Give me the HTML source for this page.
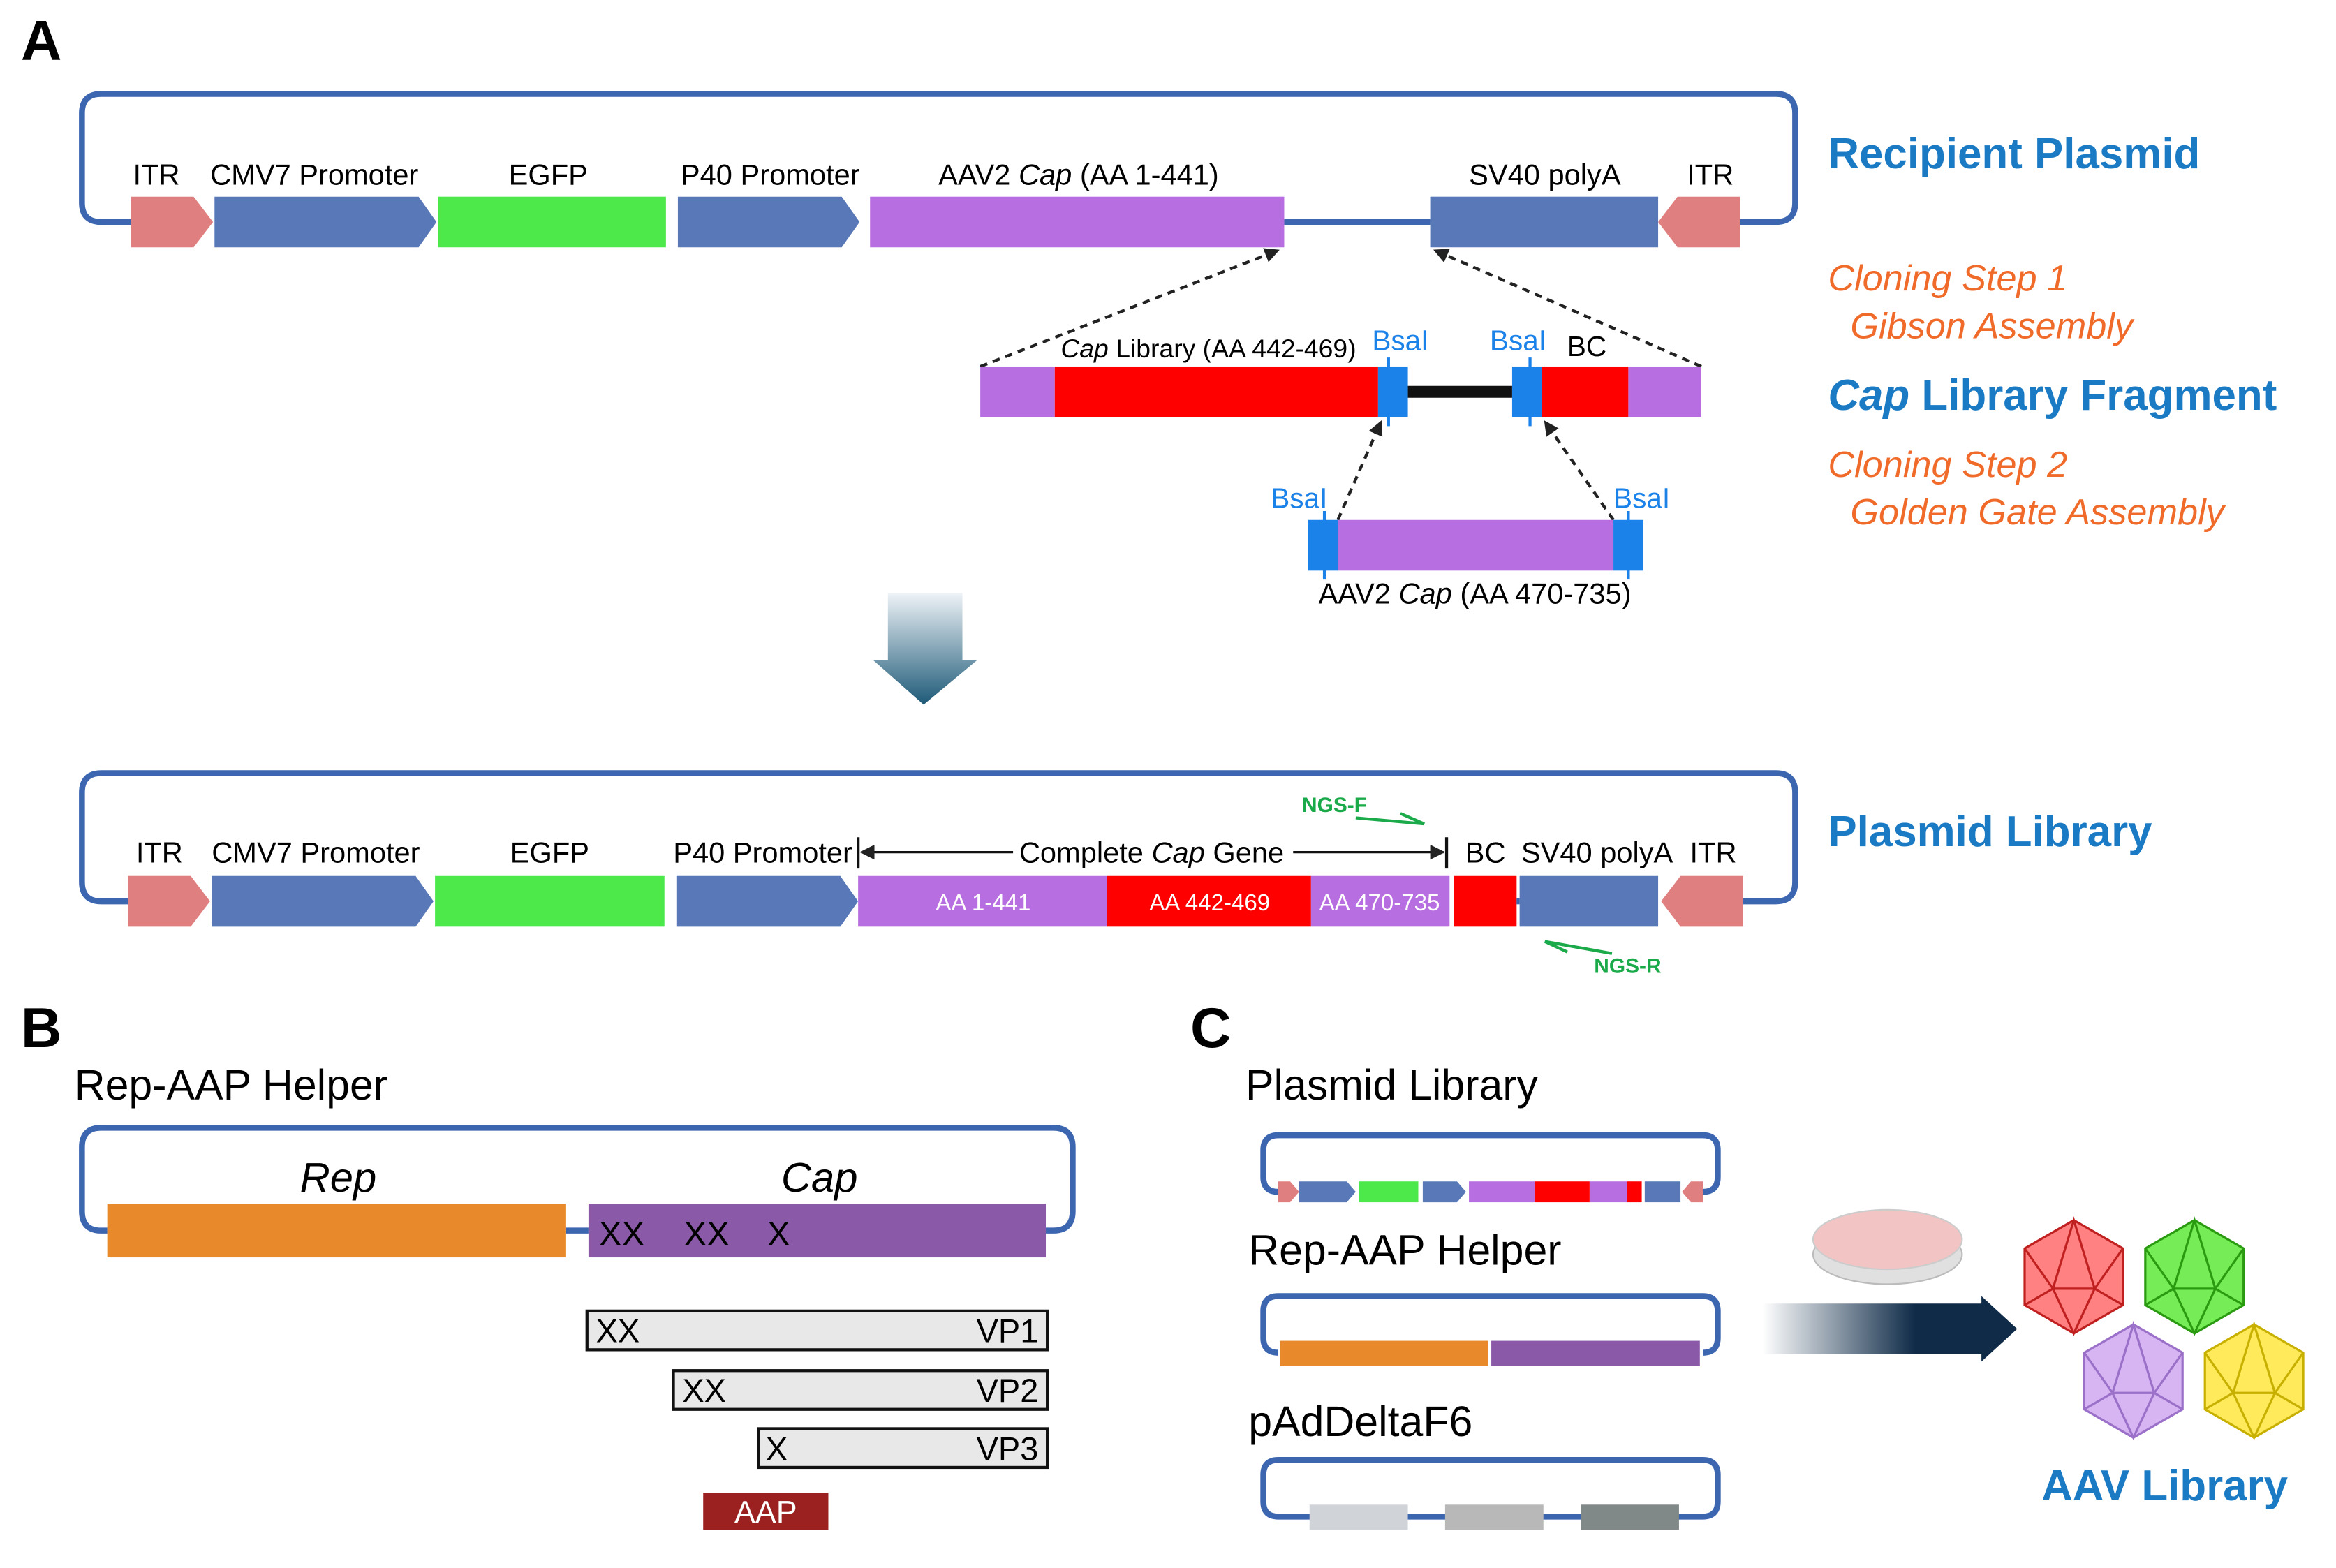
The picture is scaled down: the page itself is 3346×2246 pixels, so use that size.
<!DOCTYPE html>
<html><head><meta charset="utf-8"><style>html,body{margin:0;padding:0;background:#fff}svg{display:block}text{font-family:"Liberation Sans",sans-serif}</style></head><body>
<svg width="3346" height="2246" viewBox="0 0 1568 1052.5" xmlns="http://www.w3.org/2000/svg">
<defs>
<linearGradient id="dg" x1="0" y1="0" x2="0" y2="1"><stop offset="0" stop-color="#eef3f7"/><stop offset="1" stop-color="#1e5a78"/></linearGradient>
<linearGradient id="rg" x1="0" y1="0" x2="1" y2="0"><stop offset="0" stop-color="#ffffff"/><stop offset="0.6" stop-color="#0f2b48"/><stop offset="1" stop-color="#0f2b48"/></linearGradient>
<marker id="ah" markerWidth="10" markerHeight="10" refX="9" refY="5" orient="auto" markerUnits="userSpaceOnUse"><path d="M0,0 L10,5 L0,10 z" fill="#222"/></marker>
</defs>
<text x="14" y="40" font-size="38" font-weight="bold">A</text>
<text x="14" y="703" font-size="38" font-weight="bold">B</text>
<text x="799" y="703" font-size="38" font-weight="bold">C</text>

<path d="M88,149 L68,149 Q55,149 55,136 L55,76 Q55,63 68,63 L1192,63 Q1205,63 1205,76 L1205,136 Q1205,149 1192,149 L1168,149" fill="none" stroke="#3d66b0" stroke-width="4"/>
<line x1="862" y1="149" x2="960" y2="149" stroke="#3d66b0" stroke-width="4"/>
<polygon points="88,132 130,132 143,149 130,166 88,166" fill="#e07f7f"/>
<polygon points="144,132 281,132 293,149 281,166 144,166" fill="#5878b8"/>
<rect x="294" y="132" width="153" height="34" fill="#4de84a"/>
<polygon points="455,132 565,132 577,149 565,166 455,166" fill="#5878b8"/>
<rect x="584" y="132" width="278" height="34" fill="#b76ee0"/>
<rect x="960" y="132" width="153" height="34" fill="#5878b8"/>
<polygon points="1168,132 1126,132 1113,149 1126,166 1168,166" fill="#e07f7f"/>
<g font-size="19.5" text-anchor="middle">
<text x="105" y="124">ITR</text><text x="211" y="124">CMV7 Promoter</text><text x="368" y="124">EGFP</text><text x="517" y="124">P40 Promoter</text>
<text x="724" y="124">AAV2 <tspan font-style="italic">Cap</tspan> (AA 1-441)</text><text x="1037" y="124">SV40 polyA</text><text x="1148" y="124">ITR</text>
</g>
<g font-size="29" font-weight="bold" fill="#1a7ac4">
<text x="1227" y="113">Recipient Plasmid</text>
<text x="1227" y="275"><tspan font-style="italic">Cap</tspan> Library Fragment</text>
<text x="1227" y="568">Plasmid Library</text>
</g>
<g font-size="24.5" font-style="italic" fill="#f06a2a">
<text x="1227" y="195">Cloning Step 1</text><text x="1242" y="227">Gibson Assembly</text>
<text x="1227" y="320">Cloning Step 2</text><text x="1242" y="352">Golden Gate Assembly</text>
</g>

<line x1="658" y1="246" x2="858" y2="168" stroke="#222" stroke-width="2" stroke-dasharray="5,4" marker-end="url(#ah)"/>
<line x1="1142" y1="246" x2="963" y2="168" stroke="#222" stroke-width="2" stroke-dasharray="5,4" marker-end="url(#ah)"/>
<rect x="658" y="246" width="50" height="34" fill="#b76ee0"/>
<rect x="708" y="246" width="217" height="34" fill="#f00"/>
<rect x="925" y="246" width="20" height="34" fill="#1a82e8"/>
<line x1="945" y1="263" x2="1015" y2="263" stroke="#111" stroke-width="8"/>
<rect x="1015" y="246" width="20" height="34" fill="#1a82e8"/>
<rect x="1035" y="246" width="58" height="34" fill="#f00"/>
<rect x="1093" y="246" width="49" height="34" fill="#b76ee0"/>
<line x1="932" y1="240" x2="932" y2="286" stroke="#1a82e8" stroke-width="2"/>
<line x1="1027" y1="240" x2="1027" y2="286" stroke="#1a82e8" stroke-width="2"/>
<text x="712" y="240" font-size="17.5"><tspan font-style="italic">Cap</tspan> Library (AA 442-469)</text>
<text x="921" y="235" font-size="19" fill="#1a82e8">BsaI</text>
<text x="1000" y="235" font-size="19" fill="#1a82e8">BsaI</text>
<text x="1052" y="239" font-size="19">BC</text>

<line x1="898" y1="349" x2="927" y2="283" stroke="#222" stroke-width="2" stroke-dasharray="5,4" marker-end="url(#ah)"/>
<line x1="1083" y1="349" x2="1037" y2="283" stroke="#222" stroke-width="2" stroke-dasharray="5,4" marker-end="url(#ah)"/>
<rect x="878" y="349" width="20" height="34" fill="#1a82e8"/>
<rect x="898" y="349" width="185" height="34" fill="#b76ee0"/>
<rect x="1083" y="349" width="20" height="34" fill="#1a82e8"/>
<line x1="889" y1="343" x2="889" y2="389" stroke="#1a82e8" stroke-width="2"/>
<line x1="1093" y1="343" x2="1093" y2="389" stroke="#1a82e8" stroke-width="2"/>
<text x="853" y="341" font-size="19" fill="#1a82e8">BsaI</text>
<text x="1083" y="341" font-size="19" fill="#1a82e8">BsaI</text>
<text x="990" y="405" font-size="19.5" text-anchor="middle">AAV2 <tspan font-style="italic">Cap</tspan> (AA 470-735)</text>

<polygon points="596,398 646,398 646,443 656,443 620,473 586,443 596,443" fill="url(#dg)"/>

<path d="M86,605 L68,605 Q55,605 55,592 L55,532 Q55,519 68,519 L1192,519 Q1205,519 1205,532 L1205,592 Q1205,605 1192,605 L1170,605" fill="none" stroke="#3d66b0" stroke-width="4"/>
<polygon points="86,588 128,588 141,605 128,622 86,622" fill="#e07f7f"/>
<polygon points="142,588 279,588 291,605 279,622 142,622" fill="#5878b8"/>
<rect x="292" y="588" width="154" height="34" fill="#4de84a"/>
<polygon points="454,588 564,588 576,605 564,622 454,622" fill="#5878b8"/>
<rect x="576" y="588" width="167" height="34" fill="#b76ee0"/>
<rect x="743" y="588" width="137" height="34" fill="#f00"/>
<rect x="880" y="588" width="93" height="34" fill="#b76ee0"/>
<rect x="976" y="588" width="42" height="34" fill="#f00"/>
<line x1="1018" y1="605" x2="1020" y2="605" stroke="#3d66b0" stroke-width="4"/>
<rect x="1020" y="588" width="93" height="34" fill="#5878b8"/>
<polygon points="1170,588 1128,588 1115,605 1128,622 1170,622" fill="#e07f7f"/>
<g font-size="15.5" fill="#fff" text-anchor="middle"><text x="660" y="611">AA 1-441</text><text x="812" y="611">AA 442-469</text><text x="926" y="611">AA 470-735</text></g>
<g font-size="19.5" text-anchor="middle">
<text x="107" y="579">ITR</text><text x="212" y="579">CMV7 Promoter</text><text x="369" y="579">EGFP</text><text x="512" y="579">P40 Promoter</text>
<text x="773" y="579">Complete <tspan font-style="italic">Cap</tspan> Gene</text>
<text x="997" y="579">BC</text><text x="1072" y="579">SV40 polyA</text><text x="1150" y="579">ITR</text>
</g>
<line x1="576" y1="562" x2="576" y2="583" stroke="#111" stroke-width="2"/>
<line x1="971" y1="562" x2="971" y2="583" stroke="#111" stroke-width="2"/>
<line x1="578" y1="572" x2="680" y2="572" stroke="#111" stroke-width="1.5" marker-end="url(#ah)" transform="rotate(180 629 572)"/>
<line x1="868" y1="572" x2="969" y2="572" stroke="#111" stroke-width="1.5" marker-end="url(#ah)"/>
<text x="874" y="545" font-size="14" font-weight="bold" fill="#1aaa4a">NGS-F</text>
<path d="M910,549 L956,553 L940,546" fill="none" stroke="#1aaa4a" stroke-width="2"/>
<text x="1070" y="653" font-size="14" font-weight="bold" fill="#1aaa4a">NGS-R</text>
<path d="M1082,640 L1037,632 L1052,639" fill="none" stroke="#1aaa4a" stroke-width="2"/>

<text x="50" y="738" font-size="28.5">Rep-AAP Helper</text>
<path d="M72,826 L68,826 Q55,826 55,813 L55,770 Q55,757 68,757 L707,757 Q720,757 720,770 L720,813 Q720,826 707,826 L702,826" fill="none" stroke="#3d66b0" stroke-width="4"/>
<line x1="380" y1="826" x2="395" y2="826" stroke="#3d66b0" stroke-width="4"/>
<rect x="72" y="808" width="308" height="36" fill="#e88a2c"/>
<rect x="395" y="808" width="307" height="36" fill="#8a5aa8"/>
<text x="227" y="800" font-size="28" font-style="italic" text-anchor="middle">Rep</text>
<text x="550" y="800" font-size="28" font-style="italic" text-anchor="middle">Cap</text>
<g font-size="23"><text x="402" y="836">XX</text><text x="459" y="836">XX</text><text x="515" y="836">X</text></g>
<g fill="#e8e8e8" stroke="#111" stroke-width="2">
<rect x="394" y="880" width="309" height="26"/><rect x="452" y="920" width="251" height="26"/><rect x="509" y="959" width="194" height="26"/></g>
<g font-size="22"><text x="400" y="901">XX</text><text x="458" y="941">XX</text><text x="514" y="980">X</text>
<text x="697" y="901" text-anchor="end">VP1</text><text x="697" y="941" text-anchor="end">VP2</text><text x="697" y="980" text-anchor="end">VP3</text></g>
<rect x="472" y="1002" width="84" height="25" fill="#9b2020"/>
<text x="514" y="1022" font-size="21" fill="#fff" text-anchor="middle">AAP</text>

<text x="836" y="738" font-size="28.5">Plasmid Library</text>
<path d="M858,800 Q848,800 848,790 L848,772 Q848,762 858,762 L1143,762 Q1153,762 1153,772 L1153,790 Q1153,800 1143,800" fill="none" stroke="#3d66b0" stroke-width="4"/>
<polygon points="858,793 866,793 872,800 866,807 858,807" fill="#e07f7f"/>
<polygon points="872,793 904,793 910,800 904,807 872,807" fill="#5878b8"/>
<rect x="912" y="793" width="40" height="14" fill="#4de84a"/>
<polygon points="955,793 978,793 984,800 978,807 955,807" fill="#5878b8"/>
<rect x="986" y="793" width="44" height="14" fill="#b76ee0"/>
<rect x="1030" y="793" width="37" height="14" fill="#f00"/>
<rect x="1067" y="793" width="25" height="14" fill="#b76ee0"/>
<rect x="1092" y="793" width="10" height="14" fill="#f00"/>
<rect x="1104" y="793" width="24" height="14" fill="#5878b8"/>
<polygon points="1143,793 1135,793 1129,800 1135,807 1143,807" fill="#e07f7f"/>
<text x="838" y="849" font-size="28.5">Rep-AAP Helper</text>
<path d="M858,908 Q848,908 848,898 L848,880 Q848,870 858,870 L1143,870 Q1153,870 1153,880 L1153,898 Q1153,908 1143,908" fill="none" stroke="#3d66b0" stroke-width="4"/>
<rect x="859" y="900" width="140" height="17" fill="#e88a2c"/>
<rect x="1001" y="900" width="140" height="17" fill="#8a5aa8"/>
<text x="838" y="964" font-size="28.5">pAdDeltaF6</text>
<path d="M858,1018 Q848,1018 848,1008 L848,990 Q848,980 858,980 L1143,980 Q1153,980 1153,990 L1153,1008 Q1153,1018 1143,1018 Z" fill="none" stroke="#3d66b0" stroke-width="4"/>
<rect x="879" y="1010" width="66" height="17" fill="#d0d4d8"/>
<rect x="970" y="1010" width="66" height="17" fill="#b8b8b8"/>
<rect x="1061" y="1010" width="66" height="17" fill="#808888"/>

<polygon points="1183,875 1330,875 1330,870 1354,892 1330,914 1330,909 1183,909" fill="url(#rg)"/>
<ellipse cx="1267" cy="842" rx="50" ry="20" fill="#e0e0e0" stroke="#bbb"/>
<ellipse cx="1267" cy="832" rx="50" ry="20" fill="#f2c4c4" stroke="#ccc"/>

<g stroke-width="1.5" fill-opacity="0.85">
<g transform="translate(1392,857)" fill="#ff6b6b" stroke="#c02020"><polygon points="0,-38 33,-19 33,19 0,38 -33,19 -33,-19"/><path d="M0,-38 L-14,8 L14,8 Z M-33,-19 L-14,8 M33,-19 L14,8 M-14,8 L0,38 L14,8 M-33,19 L-14,8 M33,19 L14,8" fill="none"/></g>
<g transform="translate(1473,857)" fill="#5eea3a" stroke="#2a9a10"><polygon points="0,-38 33,-19 33,19 0,38 -33,19 -33,-19"/><path d="M0,-38 L-14,8 L14,8 Z M-33,-19 L-14,8 M33,-19 L14,8 M-14,8 L0,38 L14,8 M-33,19 L-14,8 M33,19 L14,8" fill="none"/></g>
<g transform="translate(1432,927)" fill="#cfa8f0" stroke="#9a70c8"><polygon points="0,-38 33,-19 33,19 0,38 -33,19 -33,-19"/><path d="M0,-38 L-14,8 L14,8 Z M-33,-19 L-14,8 M33,-19 L14,8 M-14,8 L0,38 L14,8 M-33,19 L-14,8 M33,19 L14,8" fill="none"/></g>
<g transform="translate(1513,927)" fill="#ffe640" stroke="#c8b000"><polygon points="0,-38 33,-19 33,19 0,38 -33,19 -33,-19"/><path d="M0,-38 L-14,8 L14,8 Z M-33,-19 L-14,8 M33,-19 L14,8 M-14,8 L0,38 L14,8 M-33,19 L-14,8 M33,19 L14,8" fill="none"/></g>
</g>
<text x="1453" y="1007" font-size="29" font-weight="bold" fill="#1a7ac4" text-anchor="middle">AAV Library</text>
</svg>
</body></html>
